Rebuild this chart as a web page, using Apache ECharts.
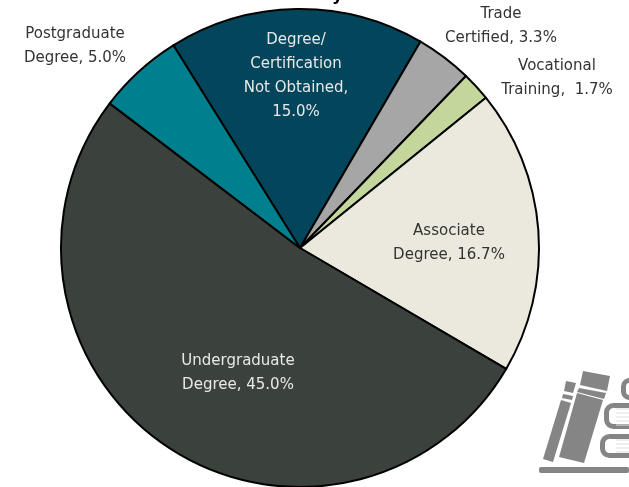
<!DOCTYPE html>
<html>
<head>
<meta charset="utf-8">
<style>
html, body { margin: 0; padding: 0; background: #fff; }
#main { width: 629px; height: 487px; }
</style>
<script src="https://cdn.jsdelivr.net/npm/echarts@6/dist/echarts.min.js"></script>
</head>
<body>
<div id="main"></div>
<script>
var categories = ['Degree/\nCertification\nNot Obtained,', 'Trade\nCertified,', 'Vocational\nTraining, ', 'Associate\nDegree,', 'Undergraduate\nDegree,', 'Postgraduate\nDegree,'];
var values = [15.0, 3.3, 1.7, 16.7, 45.0, 5.0];
var sliceColors = ['#03455a', '#a6a6a6', '#c3d69b', '#ebe9dd', '#3b423d', '#007f8f'];
var labelColors = ['#e8e8e8', '#333333', '#333333', '#333333', '#e8e8e8', '#333333'];
var labelSpots = [[296, 76], [501, 26], [557, 78], [449, 243], [238, 373], [75, 46]];
var fontName = '"DejaVu Sans", Lato, sans-serif';

var chart = echarts.init(document.getElementById('main'), null, { renderer: 'canvas' });

var seriesData = categories.map(function (name, i) {
    return {
        name: name,
        value: values[i],
        itemStyle: { color: sliceColors[i] },
        label: { color: labelColors[i] }
    };
});

var gray = '#858585';

// pages of the stacked books on the logo
var pageLines = [409, 413, 417, 421, 425, 440, 444, 448, 452].map(function (y) {
    return {
        type: 'line',
        shape: { x1: 616, y1: y, x2: 629, y2: y },
        style: { stroke: '#dddddd', lineWidth: 1 }
    };
});

var option = {
    animation: false,
    backgroundColor: '#fff',
    series: [
        {
            type: 'pie',
            center: [300, 248],
            radius: [0, 239],
            startAngle: 122,
            clockwise: true,
            avoidLabelOverlap: false,
            silent: true,
            data: seriesData,
            itemStyle: { borderColor: '#000', borderWidth: 2 },
            labelLine: { show: false },
            label: {
                show: true,
                position: 'inside',
                fontFamily: fontName,
                fontSize: 15,
                lineHeight: 24,
                align: 'center',
                formatter: function (p) {
                    return p.name + (p.name.indexOf('Not') >= 0 ? '\n' : ' ') + p.value.toFixed(1) + '%';
                }
            },
            labelLayout: function (p) {
                var s = labelSpots[p.dataIndex];
                return { x: s[0], y: s[1], align: 'center', verticalAlign: 'middle' };
            }
        }
    ],
    graphic: [
        // cut off title at the top edge
        { type: 'text', left: 332, top: -13, style: { text: 'y', fontFamily: fontName, fontSize: 17, fontWeight: 'bold', fill: '#000' } },
        // books logo, runs off the right edge
        { type: 'polygon', shape: { points: [[543, 459], [553, 462], [571, 403], [561, 400]] }, style: { fill: gray } },
        { type: 'polygon', shape: { points: [[562, 398], [572, 400], [573, 396], [563, 394]] }, style: { fill: gray } },
        { type: 'polygon', shape: { points: [[564, 391], [573, 393], [576, 383], [566, 381]] }, style: { fill: gray } },
        { type: 'polygon', shape: { points: [[559, 457], [584, 463], [603, 400], [577, 393]] }, style: { fill: gray } },
        { type: 'polygon', shape: { points: [[577, 392], [604, 399], [606, 393], [579, 388]] }, style: { fill: gray } },
        { type: 'polygon', shape: { points: [[580, 385], [607, 391], [610, 376], [583, 371]] }, style: { fill: gray } },
        { type: 'rect', shape: { x: 539, y: 467, width: 90, height: 6, r: 2 }, style: { fill: gray } },
        { type: 'rect', shape: { x: 606.5, y: 405.5, width: 40, height: 21, r: 7 }, style: { fill: '#fff', stroke: gray, lineWidth: 5 } },
        { type: 'rect', shape: { x: 602.5, y: 436.5, width: 40, height: 19, r: 7 }, style: { fill: '#fff', stroke: gray, lineWidth: 5 } },
        { type: 'rect', shape: { x: 623.5, y: 380.5, width: 20, height: 17, r: 6 }, style: { fill: '#fff', stroke: gray, lineWidth: 5 } }
    ].concat(pageLines)
};

if (option && typeof option === 'object') {
    chart.setOption(option);
}
</script>
</body>
</html>
